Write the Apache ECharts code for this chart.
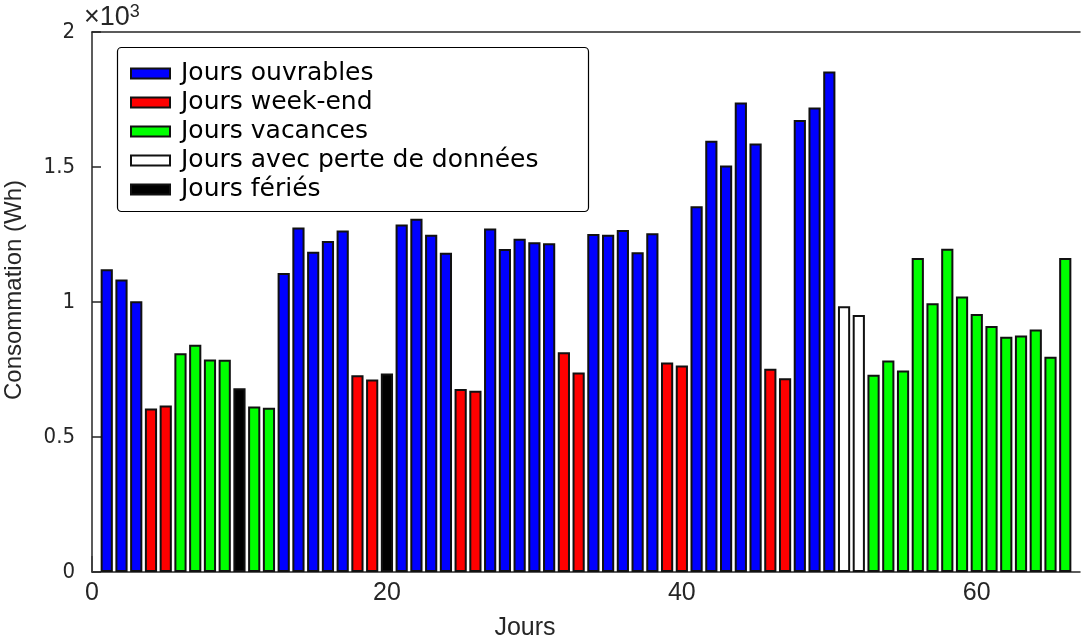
<!DOCTYPE html>
<html>
<head>
<meta charset="utf-8">
<script src="https://cdn.jsdelivr.net/npm/echarts@6/dist/echarts.min.js"></script>
<style>
  html, body { margin: 0; padding: 0; background: #fff; }
  #chart { width: 1082px; height: 642px; }
</style>
</head>
<body>
<div id="chart"></div>
<script>
// Daily energy consumption (Wh), one value per day, days 1..66
const consumption = [
  1121, 1083, 1003, 606, 617, 810, 842, 787, 786, 681,
  613, 608, 1107, 1276, 1186, 1226, 1265, 729, 713, 735,
  1287, 1308, 1249, 1182, 678, 671, 1272, 1196, 1234, 1221,
  1218, 814, 739, 1252, 1249, 1267, 1184, 1255, 776, 765,
  1355, 1597, 1506, 1739, 1587, 753, 718, 1674, 1720, 1854,
  984, 952, 731, 783, 746, 1163, 995, 1197, 1020, 956,
  911, 871, 876, 898, 797, 1163
];

// Kind of each day: ouv = working day, we = weekend, vac = holidays,
// perte = day with data loss, fer = public holiday
const dayType = [
  'ouv', 'ouv', 'ouv', 'we', 'we', 'vac', 'vac', 'vac', 'vac', 'fer',
  'vac', 'vac', 'ouv', 'ouv', 'ouv', 'ouv', 'ouv', 'we', 'we', 'fer',
  'ouv', 'ouv', 'ouv', 'ouv', 'we', 'we', 'ouv', 'ouv', 'ouv', 'ouv',
  'ouv', 'we', 'we', 'ouv', 'ouv', 'ouv', 'ouv', 'ouv', 'we', 'we',
  'ouv', 'ouv', 'ouv', 'ouv', 'ouv', 'we', 'we', 'ouv', 'ouv', 'ouv',
  'perte', 'perte', 'vac', 'vac', 'vac', 'vac', 'vac', 'vac', 'vac', 'vac',
  'vac', 'vac', 'vac', 'vac', 'vac', 'vac'
];

const groupKeys   = ['ouv', 'we', 'vac', 'perte', 'fer'];
const groupNames  = ['Jours ouvrables', 'Jours week-end', 'Jours vacances',
                     'Jours avec perte de données', 'Jours fériés'];
const groupColors = ['#0000ff', '#ff0000', '#00ff00', '#ffffff', '#000000'];

const xTicks = [0, 20, 40, 60];
const yTicks = [0, 500, 1000, 1500, 2000];
const yTickLabels = ['0', '0.5', '1', '1.5', '2'];

const AXIS_COLOR = '#262626';
const AXIS_FONT = 'Liberation Sans, Arial, sans-serif';

const series = groupKeys.map(function (key, g) {
  const data = [];
  consumption.forEach(function (v, i) {
    if (dayType[i] === key) data.push([i + 1, v]);
  });
  return {
    name: groupNames[g],
    type: 'bar',
    data: data,
    barWidth: 12.2,
    barGap: '-100%',
    itemStyle: {
      color: groupColors[g],
      borderColor: '#111',
      borderWidth: 2
    },
    emphasis: { disabled: true }
  };
});

const chart = echarts.init(document.getElementById('chart'), null, { renderer: 'canvas' });

chart.setOption({
  animation: false,
  backgroundColor: '#ffffff',
  grid: { left: 92, right: 2, top: 32, bottom: 70, outerBoundsMode: 'none', containLabel: false },
  xAxis: [{
    type: 'value',
    min: 0,
    max: 67,
    interval: 20,
    axisLine: { show: true, onZero: false, lineStyle: { color: AXIS_COLOR, width: 1.5 } },
    axisTick: {
      show: true, inside: true, length: 16, customValues: xTicks,
      lineStyle: { color: '#3a3a3a', width: 1.5 }
    },
    axisLabel: {
      customValues: xTicks,
      color: AXIS_COLOR, fontSize: 25, fontFamily: AXIS_FONT,
      margin: 9
    },
    splitLine: { show: false },
    name: 'Jours',
    nameLocation: 'middle',
    nameGap: 44,
    nameTextStyle: {
      color: AXIS_COLOR, fontSize: 25, fontFamily: AXIS_FONT,
      verticalAlign: 'top', padding: [0, 122, 0, 0]
    }
  }, {
    type: 'value',
    position: 'top',
    min: 0,
    max: 67,
    axisLine: { show: true, onZero: false, lineStyle: { color: AXIS_COLOR, width: 1.5 } },
    axisTick: { show: false },
    axisLabel: { show: false },
    splitLine: { show: false }
  }],
  yAxis: {
    type: 'value',
    min: 0,
    max: 2000,
    interval: 500,
    axisLine: { show: true, onZero: false, lineStyle: { color: AXIS_COLOR, width: 1.5 } },
    axisTick: { show: true, inside: true, length: 9, lineStyle: { color: AXIS_COLOR, width: 1.5 } },
    axisLabel: {
      color: AXIS_COLOR, fontSize: 22,
      fontFamily: "'Liberation Sans Narrow', 'DejaVu Sans Condensed', 'Liberation Sans', sans-serif",
      margin: 17,
      formatter: function (v) { return yTickLabels[yTicks.indexOf(v)]; }
    },
    splitLine: { show: false },
    name: 'Consommation (Wh)',
    nameLocation: 'middle',
    nameGap: 66,
    nameRotate: 90,
    nameTextStyle: {
      color: AXIS_COLOR, fontSize: 24, fontFamily: AXIS_FONT,
      padding: [0, 0, 0, 24]
    }
  },
  legend: {
    orient: 'vertical',
    left: 130,
    top: 61,
    padding: 0,
    itemGap: 4,
    itemWidth: 39,
    itemHeight: 10,
    selectedMode: false,
    z: 5,
    textStyle: {
      color: '#000', fontSize: 25, lineHeight: 24,
      fontFamily: 'DejaVu Sans, sans-serif', padding: [0, 0, 0, 6]
    },
    data: groupNames.map(function (n) { return { name: n, icon: 'rect' }; })
  },
  graphic: [
    {
      type: 'rect',
      z: 4,
      shape: { x: 117.5, y: 47.5, width: 471, height: 164, r: 4 },
      style: { fill: '#ffffff', stroke: '#000', lineWidth: 1.2 }
    },
    {
      type: 'text',
      left: 84,
      top: 3,
      style: {
        text: '×10{sup|3}',
        fill: AXIS_COLOR,
        font: '27px "Liberation Sans", Arial, sans-serif',
        rich: {
          sup: {
            fontSize: 18, fill: AXIS_COLOR, verticalAlign: 'top',
            fontFamily: AXIS_FONT, padding: [0, 0, 12, 0]
          }
        }
      }
    }
  ],
  series: series
});
</script>
</body>
</html>
